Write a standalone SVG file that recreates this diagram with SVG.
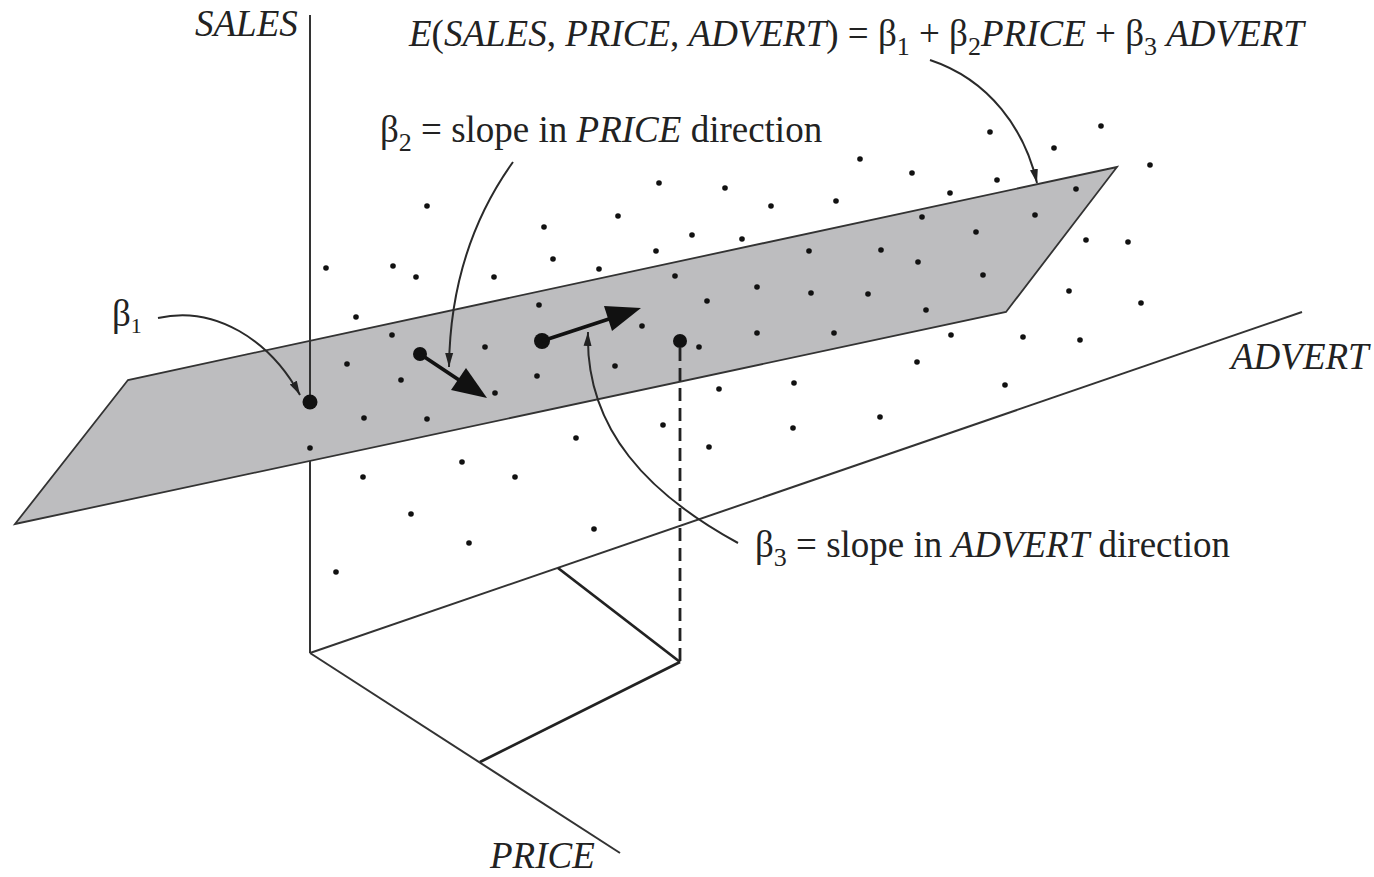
<svg xmlns="http://www.w3.org/2000/svg" width="1374" height="877" viewBox="0 0 1374 877">
<defs>
<style>
.ax{stroke:#333;stroke-width:2;fill:none}
.bx{stroke:#222;stroke-width:2.8;fill:none}
.cv{stroke:#2a2a2a;stroke-width:2;fill:none;marker-end:url(#ah)}
.dt{fill:#111}
.t{font-family:"Liberation Serif","Times New Roman",serif;font-size:37px;fill:#222}
.i{font-style:italic}
.plane{fill:#bdbdbf;stroke:#333;stroke-width:1.8;stroke-linejoin:miter}
</style>
<marker id="ah" markerUnits="userSpaceOnUse" markerWidth="16" markerHeight="10" refX="14" refY="5" orient="auto">
<path d="M0,1 L14,5 L0,9 z" fill="#222"/>
</marker>
</defs>
<rect width="1374" height="877" fill="#fff"/>

<g id="axes">
<line class="ax" x1="310" y1="653" x2="1302" y2="312"/>
<line class="ax" x1="310" y1="653" x2="620" y2="853"/>
<line class="ax" x1="310" y1="461" x2="310" y2="653"/>
<line class="bx" x1="558" y1="568" x2="680" y2="662"/>
<line class="bx" x1="680" y1="662" x2="480" y2="762"/>
</g>

<g id="plane">
<polygon class="plane" points="15,524 128,380 1117,167 1006,312"/>
</g>

<g id="sales-axis">
<line class="ax" x1="310" y1="15" x2="310" y2="402"/>
</g>

<g id="dashed">
<line x1="680" y1="348" x2="680" y2="662" stroke="#222" stroke-width="2.8" stroke-dasharray="13,7"/>
</g>

<g id="dots">
<circle class="dt" r="2.8" cx="427" cy="206"/>
<circle class="dt" r="2.8" cx="326" cy="268"/>
<circle class="dt" r="2.8" cx="393" cy="266"/>
<circle class="dt" r="2.8" cx="416" cy="277"/>
<circle class="dt" r="2.8" cx="659" cy="183"/>
<circle class="dt" r="2.8" cx="725" cy="188"/>
<circle class="dt" r="2.8" cx="771" cy="206"/>
<circle class="dt" r="2.8" cx="836" cy="201"/>
<circle class="dt" r="2.8" cx="860" cy="159"/>
<circle class="dt" r="2.8" cx="544" cy="227"/>
<circle class="dt" r="2.8" cx="618" cy="216"/>
<circle class="dt" r="2.8" cx="692" cy="235"/>
<circle class="dt" r="2.8" cx="742" cy="239"/>
<circle class="dt" r="2.8" cx="656" cy="251"/>
<circle class="dt" r="2.8" cx="553" cy="259"/>
<circle class="dt" r="2.8" cx="599" cy="269"/>
<circle class="dt" r="2.8" cx="494" cy="277"/>
<circle class="dt" r="2.8" cx="675" cy="276"/>
<circle class="dt" r="2.8" cx="757" cy="287"/>
<circle class="dt" r="2.8" cx="809" cy="251"/>
<circle class="dt" r="2.8" cx="811" cy="293"/>
<circle class="dt" r="2.8" cx="707" cy="301"/>
<circle class="dt" r="2.8" cx="912" cy="173"/>
<circle class="dt" r="2.8" cx="990" cy="132"/>
<circle class="dt" r="2.8" cx="1101" cy="126"/>
<circle class="dt" r="2.8" cx="1054" cy="148"/>
<circle class="dt" r="2.8" cx="1150" cy="165"/>
<circle class="dt" r="2.8" cx="997" cy="180"/>
<circle class="dt" r="2.8" cx="950" cy="193"/>
<circle class="dt" r="2.8" cx="1076" cy="189"/>
<circle class="dt" r="2.8" cx="922" cy="217"/>
<circle class="dt" r="2.8" cx="1035" cy="215"/>
<circle class="dt" r="2.8" cx="976" cy="232"/>
<circle class="dt" r="2.8" cx="881" cy="250"/>
<circle class="dt" r="2.8" cx="918" cy="262"/>
<circle class="dt" r="2.8" cx="983" cy="275"/>
<circle class="dt" r="2.8" cx="868" cy="294"/>
<circle class="dt" r="2.8" cx="1086" cy="240"/>
<circle class="dt" r="2.8" cx="1128" cy="242"/>
<circle class="dt" r="2.8" cx="1069" cy="291"/>
<circle class="dt" r="2.8" cx="356" cy="317"/>
<circle class="dt" r="2.8" cx="392" cy="335"/>
<circle class="dt" r="2.8" cx="347" cy="364"/>
<circle class="dt" r="2.8" cx="401" cy="380"/>
<circle class="dt" r="2.8" cx="364" cy="418"/>
<circle class="dt" r="2.8" cx="427" cy="419"/>
<circle class="dt" r="2.8" cx="310" cy="448"/>
<circle class="dt" r="2.8" cx="363" cy="477"/>
<circle class="dt" r="2.8" cx="411" cy="514"/>
<circle class="dt" r="2.8" cx="336" cy="572"/>
<circle class="dt" r="2.8" cx="539" cy="305"/>
<circle class="dt" r="2.8" cx="642" cy="326"/>
<circle class="dt" r="2.8" cx="485" cy="347"/>
<circle class="dt" r="2.8" cx="537" cy="376"/>
<circle class="dt" r="2.8" cx="615" cy="366"/>
<circle class="dt" r="2.8" cx="699" cy="347"/>
<circle class="dt" r="2.8" cx="757" cy="333"/>
<circle class="dt" r="2.8" cx="834" cy="333"/>
<circle class="dt" r="2.8" cx="495" cy="393"/>
<circle class="dt" r="2.8" cx="719" cy="389"/>
<circle class="dt" r="2.8" cx="794" cy="383"/>
<circle class="dt" r="2.8" cx="880" cy="417"/>
<circle class="dt" r="2.8" cx="663" cy="425"/>
<circle class="dt" r="2.8" cx="793" cy="428"/>
<circle class="dt" r="2.8" cx="576" cy="438"/>
<circle class="dt" r="2.8" cx="709" cy="447"/>
<circle class="dt" r="2.8" cx="462" cy="462"/>
<circle class="dt" r="2.8" cx="515" cy="477"/>
<circle class="dt" r="2.8" cx="594" cy="529"/>
<circle class="dt" r="2.8" cx="469" cy="543"/>
<circle class="dt" r="2.8" cx="926" cy="310"/>
<circle class="dt" r="2.8" cx="1141" cy="303"/>
<circle class="dt" r="2.8" cx="951" cy="335"/>
<circle class="dt" r="2.8" cx="1023" cy="337"/>
<circle class="dt" r="2.8" cx="1080" cy="340"/>
<circle class="dt" r="2.8" cx="917" cy="362"/>
<circle class="dt" r="2.8" cx="1005" cy="385"/>
</g>

<g id="beta1-point">
<circle class="dt" r="7.5" cx="310" cy="402"/>
</g>

<g id="price-arrow">
<circle class="dt" r="7" cx="420" cy="354"/>
<line x1="420" y1="354" x2="462" y2="382" stroke="#111" stroke-width="3.8"/>
<polygon points="487,398 451,390 466,368" fill="#111"/>
</g>

<g id="advert-arrow">
<circle class="dt" r="8" cx="542" cy="341"/>
<line x1="542" y1="341" x2="612" y2="318" stroke="#111" stroke-width="3.8"/>
<polygon points="641,308 612,331 604,306" fill="#111"/>
</g>

<g id="point3">
<circle class="dt" r="7" cx="680" cy="341"/>
</g>

<g id="connectors">
<path class="cv" d="M930,60 C990,80 1025,130 1037,183"/>
<path class="cv" d="M513,162 C475,215 450,280 449,367"/>
<path class="cv" d="M158,318 C215,305 270,340 300,395"/>
<path class="cv" d="M738,543 C650,495 585,430 588,332"/>
</g>

<g id="labels">
<text class="t i" x="195" y="36">SALES</text>
<text class="t" x="409" y="46"><tspan class="i">E</tspan>(<tspan class="i">SALES</tspan>, <tspan class="i">PRICE</tspan>, <tspan class="i">ADVERT</tspan>) = β<tspan font-size="26" dy="9">1</tspan><tspan dy="-9"> + β</tspan><tspan font-size="26" dy="9">2</tspan><tspan class="i" dy="-9">PRICE</tspan> + β<tspan font-size="26" dy="9">3</tspan><tspan class="i" dy="-9"> ADVERT</tspan></text>
<text class="t" x="380" y="142">β<tspan font-size="26" dy="9">2</tspan><tspan dy="-9"> = slope in </tspan><tspan class="i">PRICE</tspan> direction</text>
<text class="t" x="112" y="326" font-size="30">β<tspan font-size="22" dy="7">1</tspan></text>
<text class="t" x="755" y="557">β<tspan font-size="26" dy="9">3</tspan><tspan dy="-9"> = slope in </tspan><tspan class="i">ADVERT</tspan> direction</text>
<text class="t i" x="1231" y="369">ADVERT</text>
<text class="t i" x="490" y="868">PRICE</text>
</g>
</svg>
